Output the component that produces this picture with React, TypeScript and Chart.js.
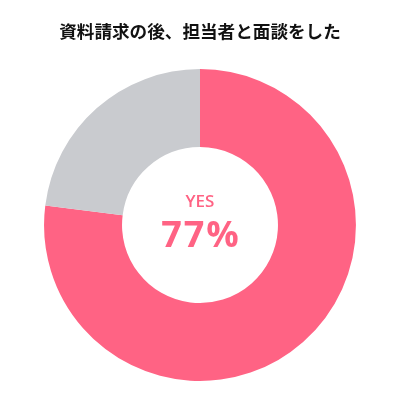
import { useEffect, useRef } from "react";
import { Chart, registerables } from "chart.js";
Chart.register(...registerables);

const title = "資料請求の後、担当者と面談をした";
const labels = ["YES", "NO"];
const values = [77, 23];
const colors = ["#ff6384", "#c9cbcf"];
const centerLabel = "YES";
const centerValue = "77%";

const centerTextPlugin = {
  id: "centerText",
  afterDraw: (chart: any) => {
    const ctx = chart.ctx;
    const meta = chart.getDatasetMeta(0);
    const arc = meta.data[0];
    if (!arc) return;
    const x = arc.x;
    const y = arc.y;
    ctx.save();
    ctx.fillStyle = colors[0];
    ctx.textAlign = "center";
    ctx.textBaseline = "middle";
    ctx.font = "600 17px 'Open Sans'";
    ctx.fillText(centerLabel, x, y - 23);
    ctx.letterSpacing = "2px";
    ctx.font = "bold 36px 'Open Sans'";
    ctx.fillText(centerValue, x + 1, y + 12);
    ctx.restore();
  },
};

const App = () => {
  const chartRef = useRef<HTMLCanvasElement>(null);

  useEffect(() => {
    document.body.style.margin = "0";
    const chart = new Chart(chartRef.current!, {
      type: "doughnut",
      data: {
        labels: labels,
        datasets: [
          {
            data: values,
            backgroundColor: colors,
            borderWidth: 0,
          },
        ],
      },
      options: {
        responsive: true,
        maintainAspectRatio: false,
        animation: false,
        cutout: "50%",
        layout: { padding: { top: 0, bottom: 19 } },
        plugins: {
          legend: { display: false },
          tooltip: { enabled: false },
          title: {
            display: true,
            text: title,
            color: "#111",
            font: { family: "'Noto Sans CJK JP'", size: 17.6, weight: "bold" },
            padding: { top: 21, bottom: 27 },
          },
        },
      },
      plugins: [centerTextPlugin],
    });

    return () => {
      chart.destroy();
    };
  }, []);

  return (
    <div style={{ width: 400, height: 400, position: "relative" }}>
      <canvas ref={chartRef} />
    </div>
  );
};

export default App;
